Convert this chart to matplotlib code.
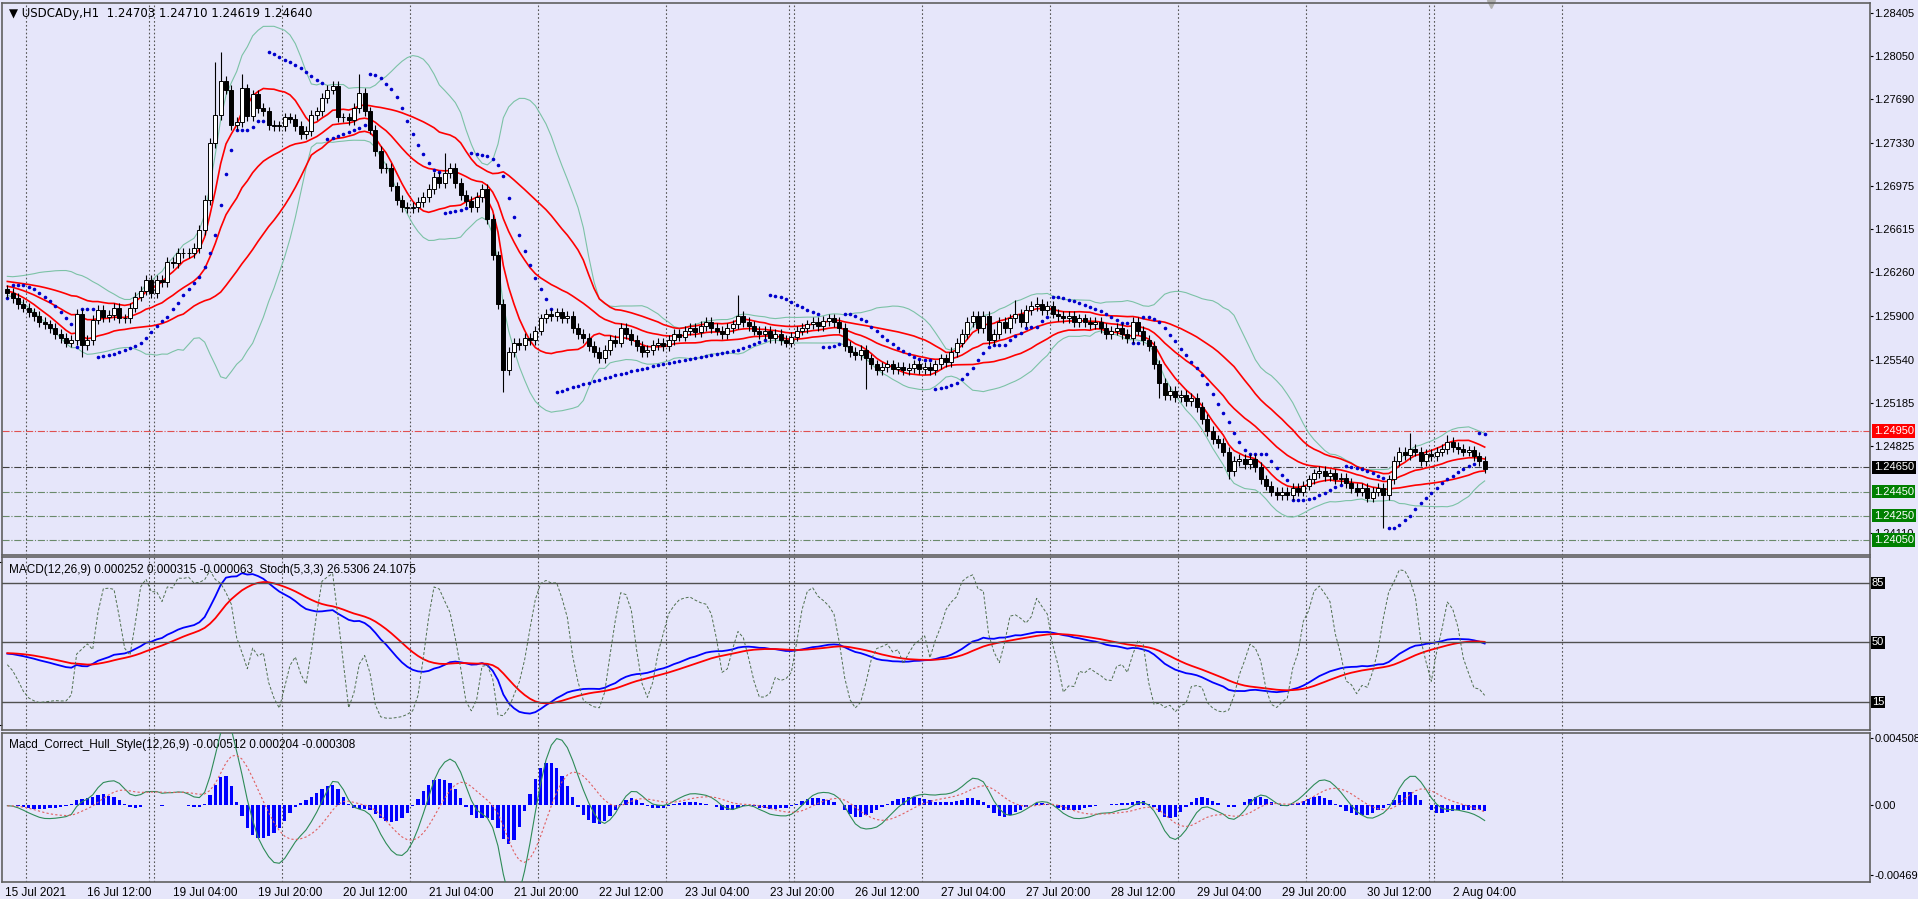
import numpy as np
import matplotlib.pyplot as plt
import matplotlib.transforms as mtrans

plt.rcParams['font.family'] = ['Liberation Sans', 'DejaVu Sans']

# hourly closes USDCAD, 15 Jul 21:00 .. 2 Aug 10:00
closes = [
    1.2609, 1.2605, 1.2600, 1.2597, 1.2593, 1.2590, 1.2585, 1.2583, 1.2580, 1.2575, 1.2572, 1.2568, 1.2570, 1.2592, 1.2566, 1.2570,
    1.2587, 1.2595, 1.2589, 1.2591, 1.2597, 1.2588, 1.2588, 1.2597, 1.2606, 1.2611, 1.2620, 1.2609, 1.2620, 1.2618, 1.2635, 1.2634,
    1.2642, 1.2642, 1.2642, 1.2646, 1.2661, 1.2686, 1.2733, 1.2756, 1.2784, 1.2777, 1.2748, 1.2750, 1.2778, 1.2755, 1.2773, 1.2762,
    1.2759, 1.2748, 1.2747, 1.2747, 1.2754, 1.2753, 1.2747, 1.2740, 1.2743, 1.2756, 1.2759, 1.2770, 1.2777, 1.2780, 1.2754, 1.2754,
    1.2752, 1.2762, 1.2774, 1.2759, 1.2744, 1.2726, 1.2712, 1.2712, 1.2697, 1.2686, 1.2680, 1.2679, 1.2680, 1.2684, 1.2688, 1.2695,
    1.2705, 1.2700, 1.2708, 1.2712, 1.2700, 1.2690, 1.2685, 1.2680, 1.2688, 1.2695, 1.2670, 1.2640, 1.2600, 1.2545, 1.2560, 1.2568,
    1.2566, 1.2572, 1.2570, 1.2578, 1.2588, 1.2592, 1.2590, 1.2593, 1.2588, 1.2590, 1.2580, 1.2575, 1.2572, 1.2565, 1.2560, 1.2555,
    1.2562, 1.2570, 1.2568, 1.2580, 1.2575, 1.2570, 1.2565, 1.2560, 1.2562, 1.2566, 1.2568, 1.2565, 1.2570, 1.2575, 1.2573, 1.2578,
    1.2580, 1.2577, 1.2582, 1.2585, 1.2580, 1.2578, 1.2575, 1.2580, 1.2583, 1.2590, 1.2585, 1.2582, 1.2578, 1.2575, 1.2578, 1.2572,
    1.2575, 1.2570, 1.2568, 1.2573, 1.2578, 1.2580, 1.2583, 1.2585, 1.2582, 1.2586, 1.2588, 1.2585, 1.2580, 1.2565, 1.2560, 1.2558,
    1.2562, 1.2555, 1.2550, 1.2545, 1.2548, 1.2550, 1.2546, 1.2548, 1.2545, 1.2547, 1.2550, 1.2546, 1.2548, 1.2545, 1.2550, 1.2555,
    1.2552, 1.2560, 1.2568, 1.2575, 1.2585, 1.2590, 1.2580, 1.2590, 1.2570, 1.2575, 1.2585, 1.2580, 1.2588, 1.2592, 1.2585, 1.2595,
    1.2598, 1.2600, 1.2595, 1.2598, 1.2592, 1.2590, 1.2588, 1.2590, 1.2585, 1.2588, 1.2585, 1.2583, 1.2585, 1.2580, 1.2575, 1.2578,
    1.2580, 1.2575, 1.2572, 1.2585, 1.2578, 1.2570, 1.2565, 1.2550, 1.2535, 1.2525, 1.2528, 1.2523, 1.2525, 1.2520, 1.2522, 1.2515,
    1.2505, 1.2495, 1.2488, 1.2485, 1.2478, 1.2462, 1.2470, 1.2472, 1.2468, 1.2472, 1.2465, 1.2455, 1.2450, 1.2445, 1.2442, 1.2445,
    1.2442, 1.2448, 1.2445, 1.2450, 1.2455, 1.2460, 1.2462, 1.2458, 1.2460, 1.2455, 1.2456, 1.2452, 1.2448, 1.2445, 1.2448, 1.2440,
    1.2445, 1.2448, 1.2442, 1.2455, 1.2470, 1.2478, 1.2475, 1.2480, 1.2478, 1.2470, 1.2476, 1.2474, 1.2478, 1.2480, 1.2486, 1.2482,
    1.2480, 1.2478, 1.2479, 1.2474, 1.2470, 1.2464,
]
first_open = 1.2612
# notable wick extremes (bar index: price)
spike_highs = {39: 1.2800, 40: 1.2808, 44: 1.2790, 66: 1.2790, 82: 1.2725, 137: 1.2607, 189: 1.2603, 193: 1.2606, 263: 1.2493, 270: 1.2492}
spike_lows = {14: 1.2556, 93: 1.2527, 161: 1.2530, 216: 1.2522, 229: 1.2455, 258: 1.2415}

price_ticks = [1.28405, 1.28050, 1.27690, 1.27330, 1.26975, 1.26615, 1.26260, 1.25900, 1.25540, 1.25185, 1.24825, 1.24110]
levels = [1.24950, 1.24650, 1.24450, 1.24250, 1.24050]
level_colors = ['#FF0000', '#000000', '#008000', '#008000', '#008000']
level_line = ['#e05050', '#404040', '#6a8a6a', '#6a8a6a', '#6a8a6a']
day_lines = [3.5, 26.5, 27.5, 51.5, 75.5, 99.5, 123.5, 146.5, 147.5, 171.5, 195.5, 219.5, 243.5, 266.5, 267.5, 291.5]
time_labels = ['15 Jul 2021', '16 Jul 12:00', '19 Jul 04:00', '19 Jul 20:00', '20 Jul 12:00', '21 Jul 04:00',
               '21 Jul 20:00', '22 Jul 12:00', '23 Jul 04:00', '23 Jul 20:00', '26 Jul 12:00', '27 Jul 04:00',
               '27 Jul 20:00', '28 Jul 12:00', '29 Jul 04:00', '29 Jul 20:00', '30 Jul 12:00', '2 Aug 04:00']
time_pos = [-0.5] + [15 + 16 * k for k in range(17)]

c = np.array(closes)
n = len(c)
x = np.arange(n)
o = np.concatenate([[first_open], c[:-1]])
hi = np.maximum(o, c) + 0.0004
lo = np.minimum(o, c) - 0.0004
for k, v in spike_highs.items():
    hi[k] = v
for k, v in spike_lows.items():
    lo[k] = v


def sma(a, p):
    out = np.full(len(a), np.nan)
    for i in range(p - 1, len(a)):
        out[i] = a[i - p + 1:i + 1].mean()
    return out


def ema(a, p):
    out = np.zeros(len(a))
    k = 2 / (p + 1)
    out[0] = a[0]
    for i in range(1, len(a)):
        out[i] = a[i] * k + out[i - 1] * (1 - k)
    return out


def wma(a, p):
    w = np.arange(1, p + 1)
    out = np.full(len(a), np.nan)
    for i in range(p - 1, len(a)):
        out[i] = (a[i - p + 1:i + 1] * w).sum() / w.sum()
    return out


def hma(a, p):
    raw = 2 * wma(a, p // 2) - wma(a, p)
    raw = np.where(np.isnan(raw), a, raw)
    return wma(raw, int(np.sqrt(p)))


def stdev(a, p):
    out = np.full(len(a), np.nan)
    for i in range(p - 1, len(a)):
        out[i] = a[i - p + 1:i + 1].std()
    return out


def sar(h, l, step=0.02, mx=0.2):
    out = np.zeros(len(h))
    up = True
    af = step
    ep = h[0]
    s = l[0]
    for i in range(len(h)):
        if i > 0:
            s = s + af * (ep - s)
            if up:
                s = min(s, l[i - 1], l[max(i - 2, 0)])
                if l[i] < s:
                    up, s, ep, af = False, ep, l[i], step
                elif h[i] > ep:
                    ep = h[i]; af = min(af + step, mx)
            else:
                s = max(s, h[i - 1], h[max(i - 2, 0)])
                if h[i] > s:
                    up, s, ep, af = True, ep, h[i], step
                elif l[i] < ep:
                    ep = l[i]; af = min(af + step, mx)
        out[i] = s
    return out


# pad series backward so indicators exist from the first bar
pad = 30
cp = np.concatenate([np.full(pad, c[0]) + np.linspace(0.002, 0, pad), c])
mid = sma(cp, 20)[pad:]
sd = stdev(cp, 20)[pad:]
mid_e = ema(cp, 20)[pad:]
macd = (ema(cp, 12) - ema(cp, 26))[pad:]
sig = ema(ema(cp, 12) - ema(cp, 26), 9)[pad:]
hull = (hma(cp, 12) - hma(cp, 26))
hull_sig = ema(np.nan_to_num(hull), 9)[pad:]
hull = hull[pad:]
hist = (hull - hull_sig) * 0.7
hp = np.concatenate([cp[:pad] + 0.0004, hi])
lp = np.concatenate([cp[:pad] - 0.0004, lo])
kraw = np.array([(cp[i] - lp[i - 4:i + 1].min()) / (hp[i - 4:i + 1].max() - lp[i - 4:i + 1].min() + 1e-9) * 100
                 if i >= 4 else 50 for i in range(len(cp))])
stoch = sma(kraw, 3)[pad:]
psar = sar(hi, lo)

bg = '#E6E6FA'
W, H = 1918, 899
fig = plt.figure(figsize=(W / 100, H / 100), dpi=100, facecolor=bg)


def rect(x0, y0, x1, y1):
    return [x0 / W, 1 - y1 / H, (x1 - x0) / W, (y1 - y0) / H]


ax1 = fig.add_axes(rect(2, 3, 1870, 555), facecolor=bg)
ax2 = fig.add_axes(rect(2, 557, 1870, 730), facecolor=bg, sharex=ax1)
ax3 = fig.add_axes(rect(2, 733, 1870, 882), facecolor=bg, sharex=ax1)
xmax = (1870 - 5) / 5.34

for ax in (ax1, ax2, ax3):
    ax.set_xlim(-1, xmax)
    for v in day_lines:
        ax.axvline(v, color='#555555', ls=(0, (1.5, 2)), lw=0.8, zorder=1)
    ax.yaxis.tick_right()
    ax.tick_params(axis='y', labelsize=8, length=2, pad=1, colors='#000000')
    ax.tick_params(axis='x', bottom=False, labelbottom=False)
    for s in ax.spines.values():
        s.set_color('#606060')
        s.set_linewidth(1.2)

# main price panel
ax1.set_ylim(1.23926, 1.28485)
ax1.set_yticks(price_ticks)
ax1.set_yticklabels(['%.5f' % t for t in price_ticks])
trans = mtrans.blended_transform_factory(ax1.transAxes, ax1.transData)
for lv, col, lc in zip(levels, level_colors, level_line):
    ax1.axhline(lv, color=lc, ls='-.', lw=0.8, zorder=1)
    ax1.text(1.002, lv, '%.5f' % lv, transform=trans, fontsize=8, color='white', va='center', ha='left',
             bbox=dict(boxstyle='square,pad=0.15', fc=col, ec='none'), zorder=5, clip_on=False)

ax1.plot(x, mid + 2 * sd, color='#7cc2a6', lw=0.8, zorder=2)
ax1.plot(x, mid - 2 * sd, color='#7cc2a6', lw=0.8, zorder=2)
ax1.plot(x, mid_e, color='#FF0000', lw=1.2, zorder=2)
ax1.plot(x, mid_e + sd, color='#FF0000', lw=1.2, zorder=2)
ax1.plot(x, mid_e - sd, color='#FF0000', lw=1.2, zorder=2)
ax1.scatter(x, psar, s=2.5, color='#0000CC', zorder=3)

ax1.vlines(x, lo, hi, color='#000000', lw=0.8, zorder=3)
up = c >= o
body_lo = np.minimum(o, c)
body_h = np.maximum(np.abs(c - o), 0.00004)
ax1.bar(x[up], body_h[up], bottom=body_lo[up], width=0.7, color='white', edgecolor='black', lw=0.7, zorder=4)
ax1.bar(x[~up], body_h[~up], bottom=body_lo[~up], width=0.7, color='black', edgecolor='black', lw=0.7, zorder=4)
ax1.text(0.004, 0.992, '\u25BC USDCADy,H1  1.24703 1.24710 1.24619 1.24640', transform=ax1.transAxes,
         fontsize=8.5, va='top', ha='left', family=['DejaVu Sans'])
ax1.plot([0.797], [0.998], marker='v', color='#b0b0b0', ms=6, transform=ax1.transAxes, clip_on=False)

# MACD + stochastic panel
ax2.set_ylim(-0.00493, 0.00535)
ax2.set_yticks([0.005054, -0.004633])
ax2.set_yticklabels(['0.005054', '-0.004633'])
ax2b = ax2.twinx()
ax2b.set_ylim(-1.5, 100.3)
ax2b.set_yticks([])
for s in ax2b.spines.values():
    s.set_visible(False)
for lv in (85, 50, 15):
    ax2b.axhline(lv, color='#505050', lw=1.0, zorder=1)
    ax2b.text(1.001, lv, str(lv), transform=mtrans.blended_transform_factory(ax2b.transAxes, ax2b.transData),
              fontsize=8, color='white', va='center', ha='left',
              bbox=dict(boxstyle='square,pad=0.1', fc='black', ec='none'), clip_on=False)
ax2b.plot(x, stoch, color='#4f6f4f', lw=0.7, ls=(0, (3, 2)))
ax2.plot(x, macd, color='#0000FF', lw=1.3, zorder=3)
ax2.plot(x, sig, color='#FF0000', lw=1.3, zorder=3)
ax2.text(0.004, 0.96, 'MACD(12,26,9) 0.000252 0.000315 -0.000063  Stoch(5,3,3) 26.5306 24.1075',
         transform=ax2.transAxes, fontsize=8.5, va='top', ha='left')

# hull MACD panel
ax3.set_ylim(-0.00516, 0.00484)
ax3.set_yticks([0.004508, 0.0, -0.00469])
ax3.set_yticklabels(['0.004508', '0.00', '-0.00469'])
ax3.bar(x, hist, width=0.65, color='#0000FF', zorder=3)
ax3.plot(x, hull, color='#2e8b57', lw=0.8, zorder=4)
ax3.plot(x, hull_sig, color='#e06060', lw=0.8, ls=(0, (2, 2)), zorder=4)
ax3.text(0.004, 0.96, 'Macd_Correct_Hull_Style(12,26,9) -0.000512 0.000204 -0.000308',
         transform=ax3.transAxes, fontsize=8.5, va='top', ha='left')
for p, t in zip(time_pos, time_labels):
    ax3.text(p, -0.035, t, transform=mtrans.blended_transform_factory(ax3.transData, ax3.transAxes),
             fontsize=8.5, va='top', ha='left', clip_on=False)

fig.savefig('out.png', dpi=100, facecolor=bg)
